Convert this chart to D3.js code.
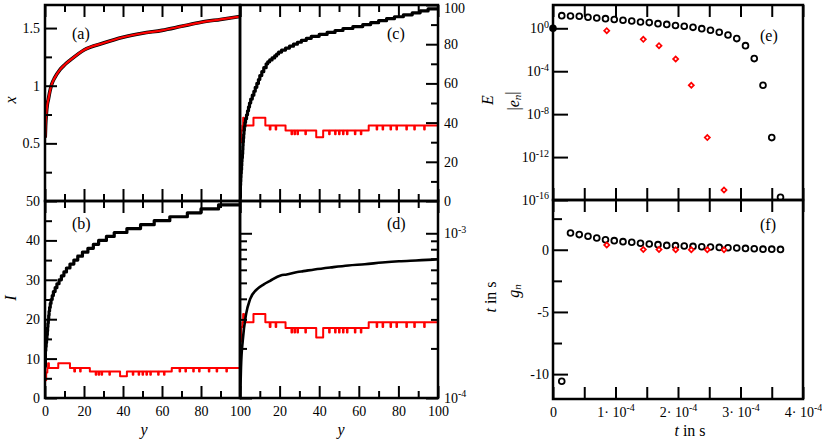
<!DOCTYPE html>
<html>
<head>
<meta charset="utf-8">
<script src="https://cdn.jsdelivr.net/npm/d3@7/dist/d3.min.js"></script>
<style>
    body { margin: 0; background: #fff; }
    .tick line { stroke: #000; stroke-width: 2px; }
    .domain { display: none; }
    .frame { fill: none; stroke: #000; stroke-width: 2.5px; }
</style>
</head>
<body>
<svg id="chart" width="822" height="441"></svg>
<script>
(function() {
"use strict";

// panel (a): x against y, black and red coincide
var aY = [0.1, 0.3, 0.7, 1.2, 1.7, 2.5, 3.4, 5, 7.7, 10, 12.8, 20, 30, 40, 50, 60, 70, 80, 90, 100];
var aX = [0.55, 0.65, 0.76, 0.84, 0.88, 0.95, 1.01, 1.07, 1.14, 1.18, 1.22, 1.31, 1.37, 1.42, 1.455, 1.48, 1.515, 1.55, 1.575, 1.6];

// panel (b): black staircase of I
var bY = [0, 0.2, 0.4, 0.6, 0.8, 1.0, 1.2, 1.35, 1.5, 1.7, 1.9, 2.1, 2.35, 2.7, 3.1, 3.7, 4.3, 5.2, 6.1, 7.2,
          8.4, 9.7, 11, 12.8, 14.8, 16.8, 19.2, 22, 24.8, 27.5, 31.5, 35.5, 42, 49, 56, 64, 73, 80, 89, 100];
var bI = [8, 12, 13, 14, 15, 16, 17, 18, 19, 20, 21, 22, 23, 24, 25, 26, 27, 28, 29, 30,
          31, 32, 33, 34, 35, 36, 37, 38, 39, 40, 41, 42, 43, 44, 45, 46, 47, 48, 49, 49];

// panel (c): black staircase of E
var cY = [0, 0.2, 0.3, 0.4, 0.5, 0.65, 0.8, 0.9, 1.0, 1.2, 1.35, 1.45, 1.55, 1.7, 1.85, 2.0, 2.2, 2.5, 2.8, 3.3,
          3.8, 4.3, 4.8, 5.4, 6.2, 7.0, 7.7, 8.5, 9.3, 10, 11, 12, 13.2, 14, 15, 16.2, 17.5, 18.5, 19.5, 21,
          23, 25, 27, 29, 31, 33.5, 36, 40, 44, 48, 52, 57, 62, 66, 70, 74, 78, 82.5, 87, 91, 95, 100];
var cE = [2, 8, 10, 12, 14, 16, 18, 20, 22, 24, 26, 28, 30, 32, 34, 36, 38, 40, 42, 44,
          46, 48, 50, 52, 54, 56, 58, 60, 62, 64, 66, 68, 70, 71, 72, 73, 74, 75, 76, 77,
          78, 79, 80, 81, 82, 83, 84, 85, 86, 87, 88, 89, 90, 91, 92, 93, 94, 95, 96, 97, 98, 98];

// panel (d): black t in s
var dY = [0.1, 0.5, 1.4, 3.1, 5.1, 8.5, 12, 15, 20.5, 23.6, 29, 32, 37.6, 46, 54.7, 63, 71.8, 80.3, 88.9, 97.4, 100];
var dT = [1.0e-4, 1.53e-4, 2.24e-4, 3.24e-4, 3.98e-4, 4.57e-4, 4.9e-4, 5.13e-4, 5.55e-4, 5.62e-4, 5.82e-4,
          5.89e-4, 6.03e-4, 6.21e-4, 6.38e-4, 6.49e-4, 6.64e-4, 6.76e-4, 6.84e-4, 6.92e-4, 6.95e-4];

// red traces of (b), (c), (d) share their y steps
var redY = [0, 0.6, 1.2, 1.6, 2.0, 6.8, 12.8, 15, 15.4, 18, 18.3, 23, 26, 26.3, 27.5, 27.8, 29, 29.3, 33, 33.3,
            38.5, 42, 45, 45.3, 48, 48.3, 50, 50.3, 52, 52.3, 54, 54.3, 58, 58.3, 61, 61.3, 65, 69, 69.3, 72,
            72.3, 76, 76.3, 79, 79.3, 84, 84.3, 88, 88.3, 93, 93.3, 100];
var redB = [4.5, 6.5, 7.6, 8.8, 7.6, 8.8, 7.6, 6.7, 7.6, 6.7, 7.6, 6.7, 5.9, 6.7, 5.9, 6.7, 5.9, 6.7, 5.9, 6.7,
            5.5, 6.7, 5.9, 6.7, 5.9, 6.7, 5.9, 6.7, 5.9, 6.7, 5.9, 6.7, 5.9, 6.7, 5.9, 6.7, 7.6, 6.7, 7.6, 6.7,
            7.6, 6.7, 7.6, 6.7, 7.6, 6.7, 7.6, 6.7, 7.6, 6.7, 7.6, 7.6];
var redC = [30, 36, 38.5, 42.5, 38.5, 42.5, 38.5, 36.5, 38.5, 36.5, 38.5, 36, 34, 36, 34, 36, 34, 36, 34, 36,
            32.5, 36, 34, 36, 34, 36, 34, 36, 34, 36, 34, 36, 34, 36, 34, 36, 38.5, 36.5, 38.5, 36.5,
            38.5, 36.5, 38.5, 36.5, 38.5, 36.5, 38.5, 36.5, 38.5, 36.5, 38.5, 38.5];
var redD = [2.2e-4, 2.7e-4, 2.88e-4, 3.24e-4, 2.88e-4, 3.24e-4, 2.88e-4, 2.7e-4, 2.88e-4, 2.7e-4,
            2.88e-4, 2.66e-4, 2.5e-4, 2.66e-4, 2.5e-4, 2.66e-4, 2.5e-4, 2.66e-4, 2.5e-4, 2.66e-4,
            2.33e-4, 2.66e-4, 2.5e-4, 2.66e-4, 2.5e-4, 2.66e-4, 2.5e-4, 2.66e-4, 2.5e-4, 2.66e-4,
            2.5e-4, 2.66e-4, 2.5e-4, 2.66e-4, 2.5e-4, 2.66e-4, 2.88e-4, 2.7e-4, 2.88e-4, 2.7e-4,
            2.88e-4, 2.7e-4, 2.88e-4, 2.7e-4, 2.88e-4, 2.7e-4, 2.88e-4, 2.7e-4, 2.88e-4, 2.7e-4,
            2.88e-4, 2.88e-4];

// panels (e) and (f)
var nT = [0, 1.4e-5, 2.8e-5, 4.2e-5, 5.6e-5, 7.0e-5, 8.4e-5, 9.8e-5, 1.12e-4, 1.26e-4, 1.40e-4, 1.54e-4, 1.68e-4,
          1.82e-4, 1.96e-4, 2.10e-4, 2.24e-4, 2.38e-4, 2.52e-4, 2.66e-4, 2.80e-4, 2.94e-4, 3.08e-4, 3.22e-4,
          3.36e-4, 3.50e-4, 3.64e-4];
var eBlack = [1, 15.1, 14.1, 13.2, 10.7, 9.1, 7.9, 6.5, 5.6, 4.8, 3.9, 3.4, 2.7, 2.3, 1.8, 1.55, 1.23, 0.93,
              0.65, 0.43, 0.24, 0.11, 0.024, 1.5e-3, 4.9e-6, 6.5e-11, 1.8e-16];
var gBlack = [null, -10.57, 1.35, 1.22, 1.08, 0.95, 0.81, 0.73, 0.65, 0.6, 0.52, 0.46, 0.41, 0.35, 0.33, 0.30,
              0.27, 0.24, 0.22, 0.19, 0.16, 0.14, 0.11, 0.08, 0.05, 0.05, 0.03];
var redT = [8.6e-5, 1.445e-4, 1.696e-4, 1.963e-4, 2.213e-4, 2.469e-4, 2.736e-4];
var eRed = [0.60, 0.093, 0.024, 1.38e-3, 4.9e-6, 6.5e-11, 8.5e-16];
var gRed = [0.38, 0.02, 0.02, 0, 0, 0, 0];

// tick values
var yMajor = [0, 20, 40, 60, 80, 100];
var yMinor = [10, 30, 50, 70, 90];
var aMajor = [0.5, 1, 1.5];
var aMinor = [0.25, 0.75, 1.25];
var bMajor = [0, 10, 20, 30, 40, 50];
var bMinor = [5, 15, 25, 35, 45];
var cMajor = [0, 20, 40, 60, 80, 100];
var cMinor = [10, 30, 50, 70, 90];
var dMajor = [1e-4, 1e-3];
var dMinor = [2e-4, 3e-4, 4e-4, 5e-4, 6e-4, 7e-4, 8e-4, 9e-4];
var eMajor = [1e-16, 1e-12, 1e-8, 1e-4, 1];
var fMajor = [-10, -5, 0];
var fMinor = [-7.5, -2.5, 2.5];
var tMajor = [0, 1e-4, 2e-4, 3e-4, 4e-4];
var tMinor = [0.5e-4, 1.5e-4, 2.5e-4, 3.5e-4];

var FONT = '"Liberation Serif", "Times New Roman", Times, serif';

var svg = d3.select('#chart');

var xL = d3.scaleLinear().domain([0, 100]).range([45, 240]);
var xR = d3.scaleLinear().domain([0, 100]).range([240, 438]);
var yA = d3.scaleLinear().domain([0, 1.7]).range([201, 5]);
var yB = d3.scaleLinear().domain([0, 50]).range([398, 201]);
var yC = d3.scaleLinear().domain([0, 100]).range([201, 5]);
var yD = d3.scaleLog().domain([1e-4, 1.57e-3]).range([398, 201]);
var xT = d3.scaleLinear().domain([0, 4e-4]).range([553, 803]);
var yE = d3.scaleLog().domain([1e-16, 148]).range([200, 5]);
var yF = d3.scaleLinear().domain([-12, 4]).range([399, 200]);

var plain = function(d) { return String(d); };

function clip(id, x0, y0, x1, y1) {
    svg.append('clipPath')
       .attr('id', id)
       .append('rect')
           .attr('x', x0)
           .attr('y', y0)
           .attr('width', x1 - x0)
           .attr('height', y1 - y0);
}

function trace(id, xs, ys, sx, sy, curve, color, width) {
    svg.append('path')
       .datum(d3.zip(xs, ys))
       .attr('clip-path', 'url(#' + id + ')')
       .attr('fill', 'none')
       .attr('stroke', color)
       .attr('stroke-width', width)
       .attr('stroke-linejoin', 'round')
       .attr('d', d3.line()
                    .curve(curve)
                    .x(function(d) { return sx(d[0]); })
                    .y(function(d) { return sy(d[1]); }));
}

function edge(make, scale, pos, major, minor, opts) {
    opts = opts || {};
    var vertical = (make === d3.axisLeft || make === d3.axisRight);
    var g = svg.append('g')
               .attr('transform', vertical ? 'translate(' + pos + ',0)' : 'translate(0,' + pos + ')');

    g.append('g')
     .attr('class', 'major')
     .call(make(scale)
               .tickValues(major)
               .tickSize(-(opts.size || 12))
               .tickPadding(opts.pad || 5)
               .tickFormat(opts.format || function() { return ''; }));

    if (minor) {
        g.append('g')
         .call(make(scale)
                   .tickValues(minor)
                   .tickSize(-(opts.minorSize || 7))
                   .tickFormat(function() { return ''; }));
    }
    g.selectAll('text')
     .style('font-family', FONT)
     .style('font-size', '14px')
     .style('fill', '#000');
    return g;
}

function powers(g, split) {
    g.selectAll('.major .tick text').each(function(d) {
        var p = split(d);
        var t = d3.select(this).text(p[0]);
        if (p[1]) {
            t.append('tspan')
                 .attr('dy', '-0.55em')
                 .style('font-size', '10px')
                 .text(p[1]);
        }
    });
}

function exponent(d) {
    return ['10', String(Math.round(Math.log10(d)))];
}

function frame(x0, y0, x1, y1) {
    svg.append('rect')
       .attr('class', 'frame')
       .attr('x', x0)
       .attr('y', y0)
       .attr('width', x1 - x0)
       .attr('height', y1 - y0);
}

function label(x, y, parts, rotate) {
    var t = svg.append('text')
               .attr('text-anchor', 'middle')
               .attr('dominant-baseline', 'central')
               .attr('transform', 'translate(' + x + ',' + y + ')' + (rotate ? ' rotate(-90)' : ''))
               .style('font-family', FONT)
               .style('font-size', '16px')
               .style('fill', '#000');
    parts.forEach(function(p) {
        var s = t.append('tspan').text(p.text);
        if (p.italic) s.style('font-style', 'italic');
        if (p.sub) s.attr('dy', '0.35em').style('font-size', '11px');
        if (p.back) s.attr('dy', '-0.35em');
    });
    return t;
}

clip('clipA', 45, 5, 240, 201);
clip('clipB', 45, 201, 240, 398);
clip('clipC', 240, 5, 438, 201);
clip('clipD', 240, 201, 438, 398);

// curves
trace('clipA', aY, aX, xL, yA, d3.curveMonotoneX, '#000', 3.6);
trace('clipA', aY, aX, xL, yA, d3.curveMonotoneX, '#ff0000', 2.2);

trace('clipB', redY, redB, xL, yB, d3.curveStepAfter, '#ff0000', 2);
trace('clipB', bY, bI, xL, yB, d3.curveStepAfter, '#000', 3.2);

trace('clipC', redY, redC, xR, yC, d3.curveStepAfter, '#ff0000', 2);
trace('clipC', cY, cE, xR, yC, d3.curveStepAfter, '#000', 3.2);

trace('clipD', redY, redD, xR, yD, d3.curveStepAfter, '#ff0000', 2);
trace('clipD', dY, dT, xR, yD, d3.curveMonotoneX, '#000', 2.6);

// markers of (e) and (f)
svg.selectAll('.e-black')
   .data(d3.zip(nT, eBlack))
   .enter()
   .append('circle')
       .attr('class', 'e-black')
       .attr('cx', function(d) { return xT(d[0]); })
       .attr('cy', function(d) { return yE(d[1]); })
       .attr('r', 2.9)
       .attr('fill', function(d, i) { return i === 0 ? '#000' : 'none'; })
       .attr('stroke', '#000')
       .attr('stroke-width', 1.8);

svg.selectAll('.g-black')
   .data(d3.zip(nT, gBlack).filter(function(d) { return d[1] !== null; }))
   .enter()
   .append('circle')
       .attr('class', 'g-black')
       .attr('cx', function(d) { return xT(d[0]); })
       .attr('cy', function(d) { return yF(d[1]); })
       .attr('r', 2.9)
       .attr('fill', 'none')
       .attr('stroke', '#000')
       .attr('stroke-width', 1.8);

var diamond = d3.symbol().type(d3.symbolSquare).size(13);

svg.selectAll('.e-red')
   .data(d3.zip(redT, eRed))
   .enter()
   .append('path')
       .attr('class', 'e-red')
       .attr('d', diamond)
       .attr('transform', function(d) { return 'translate(' + xT(d[0]) + ',' + yE(d[1]) + ') rotate(45)'; })
       .attr('fill', '#fff')
       .attr('stroke', '#ff0000')
       .attr('stroke-width', 1.7);

svg.selectAll('.g-red')
   .data(d3.zip(redT, gRed))
   .enter()
   .append('path')
       .attr('class', 'g-red')
       .attr('d', diamond)
       .attr('transform', function(d) { return 'translate(' + xT(d[0]) + ',' + yF(d[1]) + ') rotate(45)'; })
       .attr('fill', '#fff')
       .attr('stroke', '#ff0000')
       .attr('stroke-width', 1.7);

// ticks, left column
edge(d3.axisLeft, yA, 45, aMajor, aMinor, {pad: 5, format: plain});
edge(d3.axisTop, xL, 5, yMajor, yMinor);
edge(d3.axisBottom, xL, 201, yMajor, yMinor);

edge(d3.axisLeft, yB, 45, bMajor, bMinor, {pad: 5, format: plain});
edge(d3.axisTop, xL, 201, yMajor, yMinor);
edge(d3.axisBottom, xL, 398, yMajor, yMinor, {pad: 8, format: plain});

var cAxis = edge(d3.axisRight, yC, 438, cMajor, cMinor, {pad: 6, format: plain});
cAxis.selectAll('.major .tick text')
     .filter(function(d) { return d === 100; })
     .attr('dy', '0.55em');
edge(d3.axisTop, xR, 5, yMajor, yMinor);
edge(d3.axisBottom, xR, 201, yMajor, yMinor);

var dAxis = edge(d3.axisRight, yD, 438, dMajor, dMinor, {pad: 6, format: String});
powers(dAxis, exponent);
edge(d3.axisLeft, yD, 240, dMajor, dMinor);
edge(d3.axisTop, xR, 201, yMajor, yMinor);
edge(d3.axisBottom, xR, 398, yMajor.slice(1), yMinor, {pad: 8, format: plain});

// ticks, right column
var eAxis = edge(d3.axisLeft, yE, 553, eMajor, null, {size: 15, pad: 4, format: String});
powers(eAxis, exponent);
edge(d3.axisTop, xT, 5, tMajor, tMinor, {minorSize: 12});
edge(d3.axisBottom, xT, 200, tMajor, tMinor, {minorSize: 12});

edge(d3.axisLeft, yF, 553, fMajor, fMinor, {size: 15, minorSize: 9, pad: 4, format: plain});
edge(d3.axisTop, xT, 200, tMajor, tMinor, {minorSize: 12});
var tAxis = edge(d3.axisBottom, xT, 399, tMajor, tMinor, {minorSize: 12, pad: 8, format: String});
powers(tAxis, function(d) {
    return d === 0 ? ['0', ''] : [Math.round(d * 1e4) + '\u00b7 10', '-4'];
});

// frames
frame(45, 5, 240, 201);
frame(45, 201, 240, 398);
frame(240, 5, 438, 201);
frame(240, 201, 438, 398);
frame(553, 5, 803, 200);
frame(553, 200, 803, 399);

// axis titles
label(10, 100, [{text: 'x', italic: true}], true);
label(10, 298, [{text: 'I', italic: true}], true);
label(144, 429, [{text: 'y', italic: true}]);
label(341, 429, [{text: 'y', italic: true}]);
label(487, 100, [{text: 'E', italic: true}], true);
label(490, 297, [{text: 't', italic: true}, {text: ' in s'}], true);
label(513, 101, [{text: '|'}, {text: 'e', italic: true}, {text: 'n', italic: true, sub: true}, {text: '|', back: true}], true);
label(513, 291, [{text: 'g', italic: true}, {text: 'n', italic: true, sub: true}], true);
label(690, 430, [{text: 't', italic: true}, {text: '  in s'}]);

// panel tags
[['(a)', 72, 33], ['(b)', 72, 223], ['(c)', 387, 33], ['(d)', 387, 223], ['(e)', 760, 35], ['(f)', 760, 224]]
    .forEach(function(d) {
        svg.append('text')
           .attr('x', d[1])
           .attr('y', d[2])
           .attr('dy', '0.35em')
           .style('font-family', FONT)
           .style('font-size', '16px')
           .style('fill', '#000')
           .text(d[0]);
    });

}());
</script>
</body>
</html>
